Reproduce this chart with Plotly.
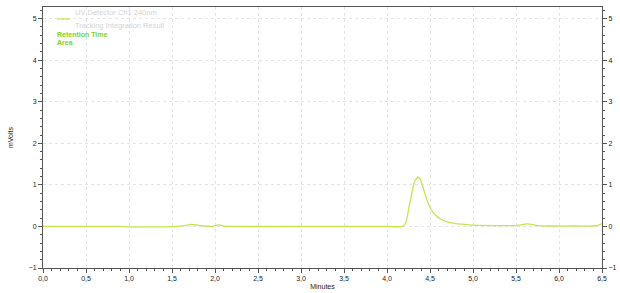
import plotly.graph_objects as go

# Chromatogram trace (minutes, mVolts)
time_min = [0.0, 0.5, 0.9, 1.0, 1.2, 1.4, 1.55, 1.65, 1.72, 1.80, 1.88, 1.97, 2.04, 2.10,
            2.2, 3.0, 3.5, 4.0, 4.18, 4.22, 4.25, 4.28, 4.32, 4.36, 4.39, 4.43, 4.47,
            4.51, 4.56, 4.62, 4.70, 4.80, 4.90, 5.0, 5.3, 5.5, 5.56, 5.62, 5.68, 5.75,
            5.9, 6.2, 6.4, 6.46, 6.5]
mvolts = [0.0, 0.0, 0.0, -0.01, -0.01, -0.01, 0.0, 0.02, 0.05, 0.03, 0.01, 0.0, 0.04, 0.01,
          0.0, 0.0, 0.0, 0.0, 0.0, 0.10, 0.40, 0.72, 1.08, 1.19, 1.12, 0.86, 0.60,
          0.42, 0.28, 0.18, 0.11, 0.07, 0.05, 0.03, 0.02, 0.02, 0.04, 0.06, 0.05, 0.02,
          0.01, 0.01, 0.01, 0.03, 0.07]

x_ticks = [0.0, 0.5, 1.0, 1.5, 2.0, 2.5, 3.0, 3.5, 4.0, 4.5, 5.0, 5.5, 6.0, 6.5]
y_ticks = [-1, 0, 1, 2, 3, 4, 5]
legend_lines = ["UV Detector Ch1 240nm", "Tracking Integration Result"]
label_lines = ["Retention Time", "Area"]

LINE = "#c3e650"
GREEN = "#7ed321"
FONT = "Liberation Sans"

fig = go.Figure()
fig.add_trace(go.Scatter(x=time_min, y=mvolts, mode="lines",
                         line=dict(color=LINE, width=1.3, shape="spline", smoothing=0.5),
                         showlegend=False, hoverinfo="skip"))
# invisible trace to bind the right-hand axis
fig.add_trace(go.Scatter(x=[time_min[0]], y=[mvolts[0]], yaxis="y2", mode="markers",
                         marker=dict(opacity=0), showlegend=False, hoverinfo="skip"))

yr = [-1, 5.28]
axis_common = dict(showline=True, linecolor="#555", linewidth=1, ticks="outside",
                   ticklen=4, tickcolor="#555", automargin=False,
                   tickfont=dict(size=7, color="#222", family=FONT))
grid = dict(showgrid=True, gridcolor="#e4e4e4", griddash="dot", gridwidth=1)

fig.update_layout(
    width=620, height=293,
    margin=dict(l=43, r=18, t=7, b=25),
    paper_bgcolor="white", plot_bgcolor="white",
    separators=",.",
    font=dict(family=FONT, size=7, color="#222"),
    xaxis=dict(range=[0, 6.5], tickvals=x_ticks, tickformat=".1f", mirror=True,
               zeroline=False,
               minor=dict(ticks="outside", ticklen=2, dtick=0.1, tickcolor="#555"),
               title=dict(text="Minutes", font=dict(size=7, family=FONT), standoff=2),
               **grid, **axis_common),
    yaxis=dict(range=yr, tickvals=y_ticks, mirror=False,
               zeroline=False,
               minor=dict(ticks="outside", ticklen=2, dtick=0.2, tickcolor="#555"),
               title=dict(text="mVolts", font=dict(size=7, family=FONT), standoff=14),
               **grid, **axis_common),
    yaxis2=dict(range=yr, tickvals=y_ticks, overlaying="y", side="right",
                showgrid=False, zeroline=False,
                minor=dict(ticks="outside", ticklen=2, dtick=0.2, tickcolor="#555"),
                **axis_common),
)

# legend block (paper coordinates)
fig.add_shape(type="line", xref="paper", yref="paper",
              x0=(57 - 43) / 559, x1=(70 - 43) / 559,
              y0=(268 - 19) / 261, y1=(268 - 19) / 261,
              line=dict(color=LINE, width=1.3))
for i, t in enumerate(legend_lines):
    fig.add_annotation(text=t, xref="paper", yref="paper",
                       x=(74 - 43) / 559, y=(268 - (12 + 13 * i)) / 261,
                       xanchor="left", yanchor="middle", showarrow=False, borderpad=0,
                       font=dict(size=7.5, color="#d4d4d4", family=FONT))
for i, t in enumerate(label_lines):
    fig.add_annotation(text="<b>" + t + "</b>", xref="paper", yref="paper",
                       x=(56 - 43) / 559, y=(268 - (34 + 8 * i)) / 261,
                       xanchor="left", yanchor="middle", showarrow=False, borderpad=0,
                       font=dict(size=7, color=GREEN, family=FONT))

fig.write_html("out.html")
